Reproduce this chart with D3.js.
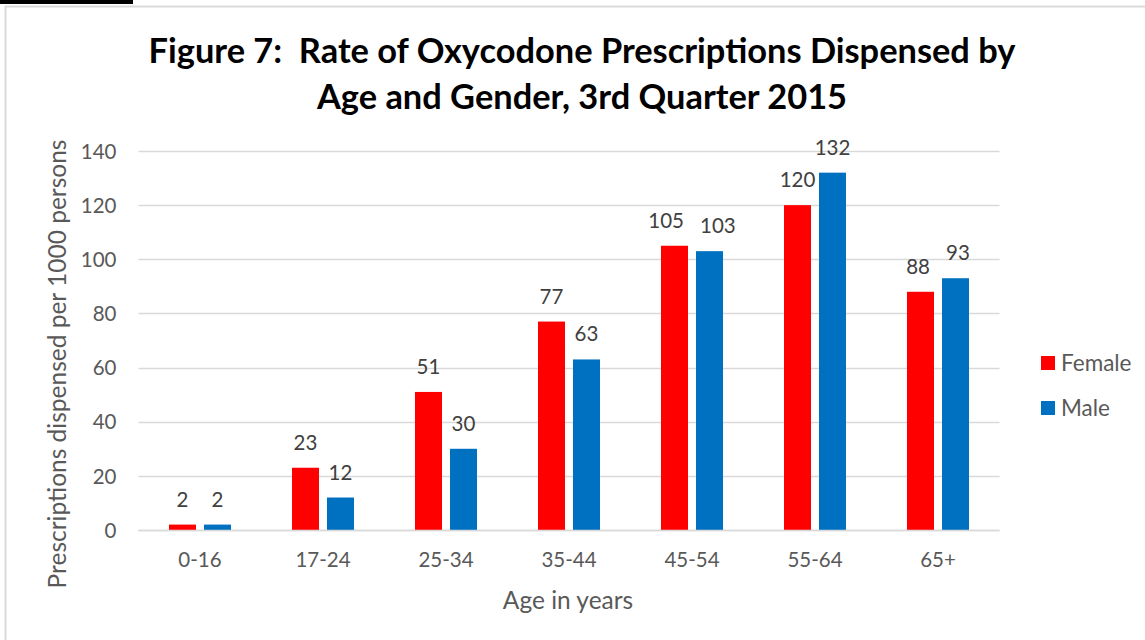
<!DOCTYPE html>
<html>
<head>
<meta charset="utf-8">
<script src="https://cdn.jsdelivr.net/npm/d3@7"></script>
<style>
  html, body { margin: 0; padding: 0; background: #fff; }
  svg { display: block; font-family: Lato, "Open Sans", sans-serif; }
</style>
</head>
<body>
<svg id="chart" width="1145" height="640"></svg>
<script>
const categories = ["0-16", "17-24", "25-34", "35-44", "45-54", "55-64", "65+"];
const seriesNames = ["Female", "Male"];
const female = [2, 23, 51, 77, 105, 120, 88];
const male = [2, 12, 30, 63, 103, 132, 93];
const yTicks = [0, 20, 40, 60, 80, 100, 120, 140];
const titleLines = ["Figure 7:  Rate of Oxycodone Prescriptions Dispensed by", "Age and Gender, 3rd Quarter 2015"];
const colors = { Female: "#ff0000", Male: "#0070c0" };

const svg = d3.select("#chart");
const W = 1145, H = 640;
const margin = { left: 138.5, right: 145.5, top: 151, bottom: 110 };
const plotW = W - margin.left - margin.right;
const plotH = H - margin.top - margin.bottom;

// frame
svg.append("line").attr("x1", 5.5).attr("x2", 5.5).attr("y1", 6).attr("y2", H).attr("stroke", "#d9d9d9").attr("stroke-width", 2);
svg.append("line").attr("x1", 5).attr("x2", W).attr("y1", 6.5).attr("y2", 6.5).attr("stroke", "#d9d9d9").attr("stroke-width", 2);
svg.append("rect").attr("x", 0).attr("y", 0).attr("width", 133).attr("height", 4).attr("fill", "#000");

const g = svg.append("g").attr("transform", `translate(${margin.left},${margin.top})`);

const x = d3.scaleBand().domain(categories).range([0, plotW]).paddingInner(0).paddingOuter(0);
const xs = d3.scaleBand().domain(seriesNames).range([0, x.bandwidth()]).paddingInner(0.229).paddingOuter(0.871);
const y = d3.scaleLinear().domain([0, 140]).range([plotH, 0]);

// gridlines
g.append("g").selectAll("line").data(yTicks).join("line")
  .attr("x1", 0).attr("x2", plotW)
  .attr("y1", d => Math.round(y(d)) + 0.5).attr("y2", d => Math.round(y(d)) + 0.5)
  .attr("stroke", "#d9d9d9").attr("stroke-width", 1.3);

// y axis labels
const yAxis = d3.axisLeft(y).tickValues(yTicks).tickSize(0).tickPadding(22);
const ya = g.append("g").call(yAxis);
ya.select(".domain").remove();
ya.selectAll("text").attr("font-size", 20.5).attr("fill", "#595959").attr("font-family", "Lato, sans-serif").attr("dy", "0.35em");

// x axis
const xAxis = d3.axisBottom(x).tickSize(0).tickPadding(22);
const xa = g.append("g").attr("transform", `translate(0,${plotH})`).call(xAxis);
xa.select(".domain").remove();
xa.selectAll("text").attr("font-size", 20.5).attr("fill", "#595959").attr("font-family", "Lato, sans-serif");

// bars
const data = categories.map((c, i) => ({ cat: c, vals: [{ s: "Female", v: female[i] }, { s: "Male", v: male[i] }] }));
const groups = g.append("g").selectAll("g").data(data).join("g")
  .attr("transform", d => `translate(${x(d.cat)},0)`);
groups.selectAll("rect").data(d => d.vals).join("rect")
  .attr("x", d => xs(d.s)).attr("width", xs.bandwidth())
  .attr("y", d => y(d.v)).attr("height", d => y(0) - y(d.v))
  .attr("fill", d => colors[d.s]);
groups.selectAll("text").data(d => d.vals).join("text")
  .attr("x", d => xs(d.s) + xs.bandwidth() / 2)
  .attr("y", d => y(d.v) - 18)
  .attr("text-anchor", "middle")
  .attr("font-size", 20.5).attr("fill", "#404040")
  .text(d => d.v);

// nudge apart value labels that would touch within a group
groups.each(function () {
  const t = d3.select(this).selectAll("text").nodes();
  if (t.length < 2) return;
  const a = t[0], b = t[1];
  const ya0 = +a.getAttribute("y"), yb0 = +b.getAttribute("y");
  if (Math.abs(ya0 - yb0) > 22) return;
  const ax = +a.getAttribute("x"), bx = +b.getAttribute("x");
  const gap = (bx - b.getComputedTextLength() / 2) - (ax + a.getComputedTextLength() / 2);
  const minGap = 16;
  if (gap < minGap) {
    const d = (minGap - gap) / 2;
    a.setAttribute("x", ax - d);
    b.setAttribute("x", bx + d);
  }
});

// axis line at 0 (on top)
g.append("line").attr("x1", 0).attr("x2", plotW).attr("y1", Math.round(y(0)) + 0.5).attr("y2", Math.round(y(0)) + 0.5)
  .attr("stroke", "#d9d9d9").attr("stroke-width", 1.3);

// title
svg.append("g").selectAll("text").data(titleLines).join("text")
  .attr("x", 582).attr("y", (d, i) => 63 + i * 46)
  .attr("text-anchor", "middle").attr("font-size", 34.4).attr("font-weight", "bold").attr("fill", "#000")
  .style("white-space", "pre")
  .text(d => d);

// axis titles
svg.append("text").attr("transform", `translate(66,364) rotate(-90)`)
  .attr("text-anchor", "middle").attr("font-size", 24.5).attr("fill", "#595959")
  .text("Prescriptions dispensed per 1000 persons");
svg.append("text").attr("x", 568).attr("y", 609)
  .attr("text-anchor", "middle").attr("font-size", 24.5).attr("fill", "#595959")
  .text("Age in years");

// legend
const leg = svg.append("g").selectAll("g").data(seriesNames).join("g")
  .attr("transform", (d, i) => `translate(1041,${356 + i * 45})`);
leg.append("rect").attr("width", 14).attr("height", 14).attr("fill", d => colors[d]);
leg.append("text").attr("x", 20).attr("y", 7).attr("dy", "0.35em").attr("font-size", 22.5).attr("fill", "#595959").text(d => d);
</script>
</body>
</html>
